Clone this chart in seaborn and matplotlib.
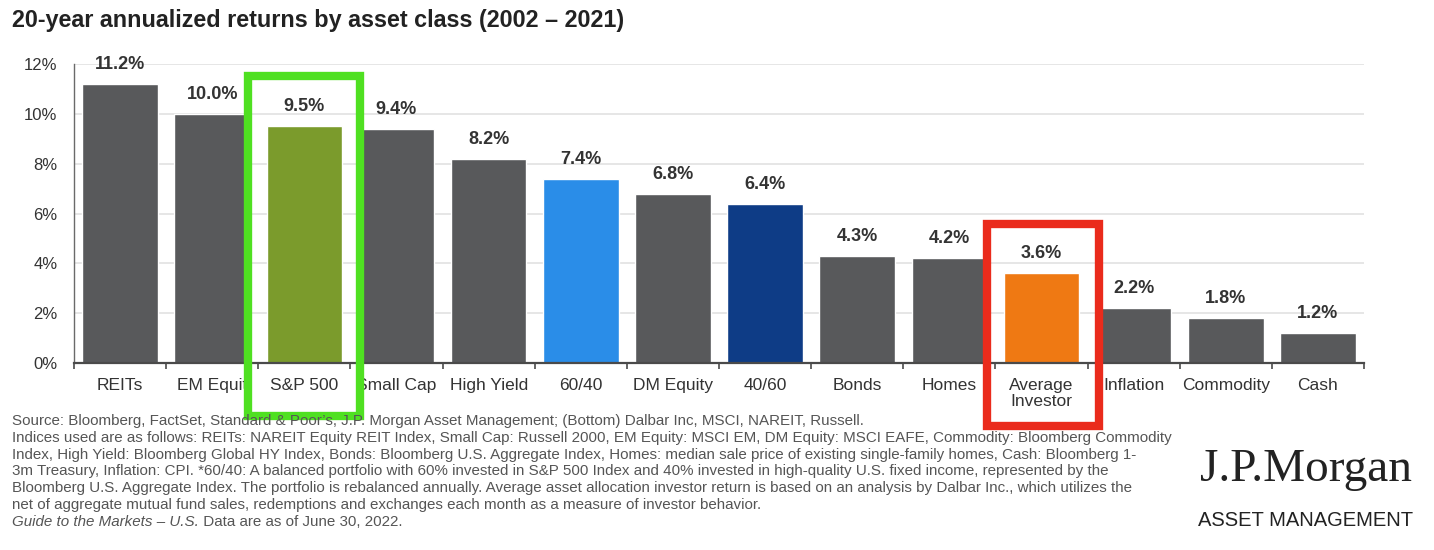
import matplotlib
matplotlib.use("Agg")
import matplotlib.pyplot as plt
import seaborn as sns
import pandas as pd
from matplotlib.patches import Rectangle
from matplotlib.ticker import FuncFormatter, FixedLocator

categories = ["REITs", "EM Equity", "S&P 500", "Small Cap", "High Yield", "60/40",
              "DM Equity", "40/60", "Bonds", "Homes", "Average\nInvestor",
              "Inflation", "Commodity", "Cash"]
tick_labels = ["REITs", "EM Equit", "S&P 500", "Small Cap", "High Yield", "60/40",
               "DM Equity", "40/60", "Bonds", "Homes", "Average\nInvestor",
               "Inflation", "Commodity", "Cash"]
values = [11.2, 10.0, 9.5, 9.4, 8.2, 7.4, 6.8, 6.4, 4.3, 4.2, 3.6, 2.2, 1.8, 1.2]
value_labels = ["11.2%", "10.0%", "9.5%", "9.4%", "8.2%", "7.4%", "6.8%", "6.4%",
                "4.3%", "4.2%", "3.6%", "2.2%", "1.8%", "1.2%"]
y_ticks = [0, 2, 4, 6, 8, 10, 12]

title = "20-year annualized returns by asset class (2002 \u2013 2021)"
footnote_lines = [
    "Source: Bloomberg, FactSet, Standard & Poor\u2019s, J.P. Morgan Asset Management; (Bottom) Dalbar Inc, MSCI, NAREIT, Russell.",
    "Indices used are as follows: REITs: NAREIT Equity REIT Index, Small Cap: Russell 2000, EM Equity: MSCI EM, DM Equity: MSCI EAFE, Commodity: Bloomberg Commodity",
    "Index, High Yield: Bloomberg Global HY Index, Bonds: Bloomberg U.S. Aggregate Index, Homes: median sale price of existing single-family homes, Cash: Bloomberg 1-",
    "3m Treasury, Inflation: CPI. *60/40: A balanced portfolio with 60% invested in S&P 500 Index and 40% invested in high-quality U.S. fixed income, represented by the",
    "Bloomberg U.S. Aggregate Index. The portfolio is rebalanced annually. Average asset allocation investor return is based on an analysis by Dalbar Inc., which utilizes the",
    "net of aggregate mutual fund sales, redemptions and exchanges each month as a measure of investor behavior.",
]
footnote_italic = "Guide to the Markets \u2013 U.S."
footnote_last = " Data are as of June 30, 2022."

GRAY = "#58595b"
palette = {c: GRAY for c in categories}
palette["S&P 500"] = "#7b9b2c"
palette["60/40"] = "#2a8de8"
palette["40/60"] = "#0e3c86"
palette["Average\nInvestor"] = "#ef7913"

sns.set_theme(style="white")
plt.rcParams["font.family"] = ["Liberation Sans", "DejaVu Sans"]

df = pd.DataFrame({"cat": categories, "val": values})

fig = plt.figure(figsize=(14.34, 5.5), dpi=100)
ax = fig.add_axes([74 / 1434, 187 / 550, (1364 - 74) / 1434, (363 - 64) / 550])

sns.barplot(data=df, x="cat", y="val", hue="cat", palette=palette, order=categories,
            hue_order=categories, legend=False, width=0.82, saturation=1, ax=ax)

ax.set_xlim(-0.5, len(categories) - 0.5)
ax.set_ylim(0, 12)
ax.set_xlabel("")
ax.set_ylabel("")
ax.set_yticks(y_ticks)
ax.yaxis.set_major_formatter(FuncFormatter(lambda v, p: f"{v:.0f}%"))
ax.grid(axis="y", color="#e2e2e2", lw=1.2)
ax.set_axisbelow(True)
for s in ["top", "right"]:
    ax.spines[s].set_visible(False)
ax.spines["left"].set_color("#6a6a6a")
ax.spines["left"].set_linewidth(1.0)
ax.spines["bottom"].set_color("#4a4a4a")
ax.spines["bottom"].set_linewidth(1.6)

ax.set_xticks(range(len(categories)))
ax.set_xticklabels(tick_labels, fontsize=12.5, color="#333333", linespacing=1.05)
ax.xaxis.set_minor_locator(FixedLocator([i - 0.5 for i in range(len(categories) + 1)]))
ax.tick_params(axis="x", which="major", length=0, pad=11)
ax.tick_params(axis="x", which="minor", bottom=True, length=4, width=1.2, color="#4a4a4a", direction="out")
ax.tick_params(axis="y", length=0, pad=12, labelsize=12, labelcolor="#333333")

for i, (v, lab) in enumerate(zip(values, value_labels)):
    ax.annotate(lab, (i, v), xytext=(0, 14), textcoords="offset points",
                ha="center", va="center", fontsize=13, fontweight="bold",
                color="#333333", annotation_clip=False)

# highlight frames
ax.add_patch(Rectangle((2 - 0.607, -2.13), 1.214, 11.53 + 2.13, fill=False,
                       edgecolor="#4fe021", lw=6, clip_on=False, zorder=5))
ax.add_patch(Rectangle((10.02 - 0.607, -2.53), 1.214, 5.58 + 2.53, fill=False,
                       edgecolor="#ea2b1c", lw=6, clip_on=False, zorder=5))

fig.text(12 / 1434, 1 - 20 / 550, title, fontsize=16.8, fontweight="bold",
         color="#222222", ha="left", va="center")

y0 = 421
dy = 16.8
fs = 10.9
for k, line in enumerate(footnote_lines):
    fig.text(12 / 1434, 1 - (y0 + k * dy) / 550, line, fontsize=fs, color="#555555",
             ha="left", va="center")
ty = 1 - (y0 + 6 * dy) / 550
t_it = fig.text(12 / 1434, ty, footnote_italic, fontsize=fs, color="#555555",
                style="italic", ha="left", va="center")
fig.canvas.draw()
bb = t_it.get_window_extent(renderer=fig.canvas.get_renderer())
fig.text(bb.x1 / 1434, ty, footnote_last, fontsize=fs, color="#555555",
         ha="left", va="center")

fig.text(1306 / 1434, 1 - 470 / 550, "J.P.Morgan", family=["Liberation Serif", "DejaVu Serif"],
         fontsize=34, color="#222222", ha="center", va="center")
fig.text(1306 / 1434, 1 - 521 / 550, "ASSET MANAGEMENT", fontsize=14.5, color="#222222",
         ha="center", va="center")

fig.savefig("out.png", dpi=100)
